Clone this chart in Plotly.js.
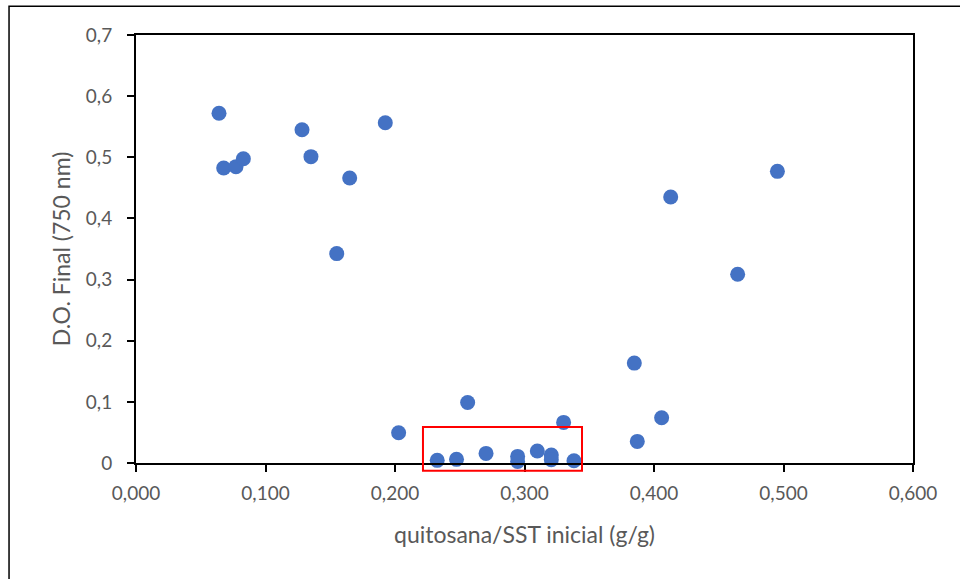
<!DOCTYPE html>
<html>
<head>
<meta charset="utf-8">
<script src="https://cdn.plot.ly/plotly-3.0.1.min.js"></script>
<style>
  html, body { margin: 0; padding: 0; background: #ffffff; }
  #chart { width: 960px; height: 579px; }
</style>
</head>
<body>
<div id="chart"></div>
<script>
// quitosana/SST inicial (g/g)
var ratioX = [0.0641, 0.0677, 0.0772, 0.0829, 0.1282, 0.1351, 0.1650, 0.1550, 0.1925,
              0.4129, 0.4953, 0.4646,
              0.2028, 0.2561, 0.2326, 0.2475,
              0.2703, 0.2947, 0.2947, 0.3099, 0.3207, 0.3207, 0.3382,
              0.3302, 0.3848, 0.4059, 0.3871];
// D.O. Final (750 nm)
var odY = [0.572, 0.4825, 0.4847, 0.4977, 0.545, 0.501, 0.466, 0.3425, 0.5566,
           0.435, 0.477, 0.3088,
           0.0495, 0.099, 0.0043, 0.006,
           0.0157, 0.0108, 0.0026, 0.0196, 0.0131, 0.0054, 0.0038,
           0.0664, 0.1634, 0.074, 0.0353];

var xTickVals = [0, 0.1, 0.2, 0.3, 0.4, 0.5, 0.6];
var xTickText = ["0,000", "0,100", "0,200", "0,300", "0,400", "0,500", "0,600"];
var yTickVals = [0, 0.1, 0.2, 0.3, 0.4, 0.5, 0.6, 0.7];
var yTickText = ["0", "0,1", "0,2", "0,3", "0,4", "0,5", "0,6", "0,7"];

// highlighted region (data units)
var boxX = [0.2216, 0.3444];
var boxY = [-0.0126, 0.0588];

var yMax = 0.7;
var fontFam = "Lato, 'Open Sans', sans-serif";
var grey = "#595959";

var trace = {
  x: ratioX,
  y: odY,
  type: "scatter",
  mode: "markers",
  cliponaxis: false,
  marker: { color: "#4472C4", size: 15, line: { width: 0 } },
  hoverinfo: "x+y"
};

var layout = {
  width: 960,
  height: 579,
  margin: { l: 136, r: 47, t: 35, b: 116 },
  paper_bgcolor: "#ffffff",
  plot_bgcolor: "#ffffff",
  showlegend: false,
  font: { family: fontFam, color: grey, size: 19 },
  xaxis: {
    range: [0, 0.6],
    tickvals: xTickVals,
    ticktext: xTickText,
    ticks: "outside",
    ticklen: 7,
    tickwidth: 2,
    tickcolor: "#000000",
    ticklabelstandoff: 5,
    showline: true,
    linecolor: "#000000",
    linewidth: 2,
    mirror: true,
    showgrid: false,
    zeroline: false,
    tickfont: { family: fontFam, size: 19, color: grey },
    title: { text: "quitosana/SST inicial (g/g)", font: { family: fontFam, size: 23, color: grey }, standoff: 24 }
  },
  yaxis: {
    range: [0, yMax],
    tickvals: yTickVals,
    ticktext: yTickText,
    ticks: "outside",
    ticklen: 7,
    tickwidth: 2,
    tickcolor: "#000000",
    ticklabelstandoff: 11,
    showline: true,
    linecolor: "#000000",
    linewidth: 2,
    mirror: true,
    showgrid: false,
    zeroline: false,
    tickfont: { family: fontFam, size: 19, color: grey },
    title: { text: "D.O. Final (750 nm)", font: { family: fontFam, size: 23, color: grey }, standoff: 9 }
  },
  shapes: [
    {
      type: "rect",
      xref: "x", yref: "paper",
      x0: boxX[0], x1: boxX[1],
      y0: boxY[0] / yMax, y1: boxY[1] / yMax,
      line: { color: "#FF0000", width: 2 },
      fillcolor: "rgba(0,0,0,0)",
      layer: "above"
    },
    {
      type: "rect",
      xref: "paper", yref: "paper",
      x0: -0.1634, x1: 1.08,
      y0: -0.30, y1: 1.067,
      line: { color: "#000000", width: 1.5 },
      fillcolor: "rgba(0,0,0,0)",
      layer: "below"
    }
  ]
};

Plotly.newPlot("chart", [trace], layout, { staticPlot: true, displayModeBar: false });
</script>
</body>
</html>
